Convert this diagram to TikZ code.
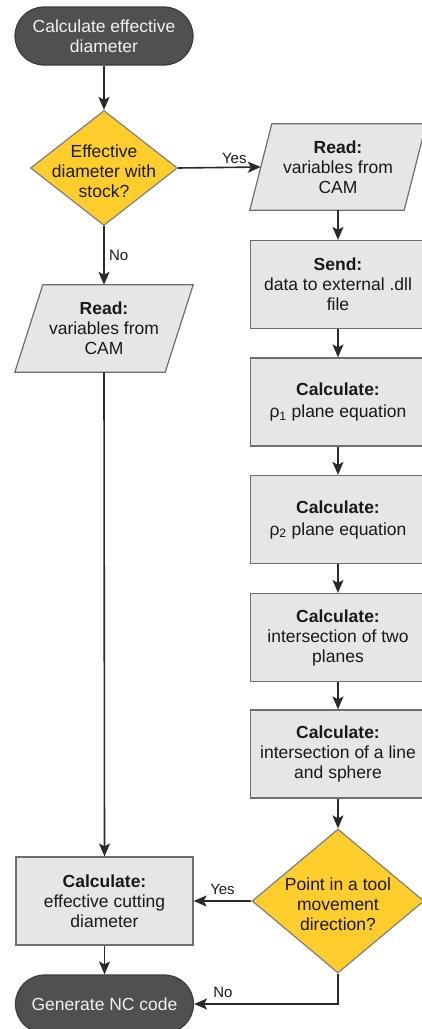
\documentclass[tikz,border=0pt]{standalone}
\usepackage{fontspec}
\setmainfont{Liberation Sans}
\usetikzlibrary{shapes.geometric,arrows.meta,backgrounds}

\definecolor{termfill}{HTML}{505050}
\definecolor{termline}{HTML}{3C3C3C}
\definecolor{boxfill}{HTML}{E6E6E6}
\definecolor{boxline}{HTML}{6E6E6E}
\definecolor{qfill}{HTML}{FFCD2C}
\definecolor{qline}{HTML}{7F7F7F}
\definecolor{flow}{HTML}{2A2A2A}

\tikzset{
  txt/.style={font=\fontsize{17.5}{20}\selectfont, align=center, text=black!90},
  term/.style={txt, draw=termline, fill=termfill, text=white!94!black, line width=1.2pt,
    rounded corners=29pt, minimum width=178pt, minimum height=58pt},
  proc/.style={txt, draw=boxline, fill=boxfill, line width=1.2pt,
    minimum width=175pt, minimum height=88pt, inner sep=2pt},
  iobox/.style={txt, minimum width=178pt, minimum height=87pt, inner sep=1pt},
  ioline/.style={draw=boxline, fill=boxfill, line width=1.2pt, line join=miter},
  quest/.style={diamond, draw=qline, fill=qfill, line width=1.2pt, inner sep=0pt},
  qtext/.style={txt, yshift=-3pt},
  lbl/.style={font=\fontsize{15}{17}\selectfont, text=black!90},
  flowline/.style={draw=flow, line width=1.6pt, -{Stealth[length=13pt,width=11pt,inset=3pt]}}
}

\begin{document}
\begin{tikzpicture}[x=1pt,y=-1pt]
\useasboundingbox (0,0) rectangle (422,1029);

% left column
\node[term] (start) at (104,36) {Calculate effective\\diameter};
\node[quest, minimum width=147pt, minimum height=115pt] (q1) at (104,168) {};
\node[qtext] (q1t) at (q1) {Effective\\diameter with\\stock?};
\node[iobox] (readL) at (104,328.5) {\textbf{Read:}\\variables from\\CAM};
\node[proc, minimum width=177pt] (calcD) at (104.5,901) {\textbf{Calculate:}\\effective cutting\\diameter};
\node[term] (stop) at (104.5,1004) {Generate NC code};

% right column
\node[iobox, minimum width=176pt, minimum height=86pt] (readR) at (338,167) {\textbf{Read:}\\variables from\\CAM};
\node[proc] (send) at (338,284.5) {\textbf{Send:}\\data to external .dll\\file};
\node[proc] (rho1) at (338,402) {\textbf{Calculate:}\\[2pt]ρ\textsubscript{1} plane equation};
\node[proc] (rho2) at (338,519.5) {\textbf{Calculate:}\\[2pt]ρ\textsubscript{2} plane equation};
\node[proc] (planes) at (338,637.5) {\textbf{Calculate:}\\intersection of two\\planes};
\node[proc] (sphere) at (338,754) {\textbf{Calculate:}\\intersection of a line\\and sphere};
\node[quest, minimum width=172pt, minimum height=144pt] (q2) at (338,901) {};
\node[qtext] (q2t) at (q2) {Point in a tool\\movement\\direction?};

% slanted input boxes behind the text
\begin{scope}[on background layer]
\draw[ioline] ([xshift=28pt]readL.north west) -- (readL.north east)
  -- ([xshift=-28pt]readL.south east) -- (readL.south west) -- cycle;
\draw[ioline] ([xshift=22pt]readR.north west) -- (readR.north east)
  -- ([xshift=-22pt]readR.south east) -- (readR.south west) -- cycle;
\end{scope}
\coordinate (readRin) at ([xshift=11pt]readR.west);

% connectors
\draw[flowline] (start) -- (q1);
\draw[flowline] (q1.east) -- node[lbl, above, pos=0.68] (yes1) {Yes} (readRin);
\draw[flowline] (q1.south) -- node[lbl, right, pos=0.5, xshift=1pt] (no1) {No} (readL.north);
\draw[flowline] (readL.south) -- (calcD.north);
\draw[flowline] (readR.south) -- (send.north);
\draw[flowline] (send) -- (rho1);
\draw[flowline] (rho1) -- (rho2);
\draw[flowline] (rho2) -- (planes);
\draw[flowline] (planes) -- (sphere);
\draw[flowline] (sphere.south) -- (q2.north);
\draw[flowline] (q2.west) -- node[lbl, above, pos=0.5, yshift=2pt] (yes2) {Yes} (calcD.east);
\draw[flowline] (q2.south) |- node[lbl, above, pos=0.9, yshift=2pt] (no2) {No} (stop.east);
\draw[flowline] (calcD) -- (stop);
\end{tikzpicture}
\end{document}
